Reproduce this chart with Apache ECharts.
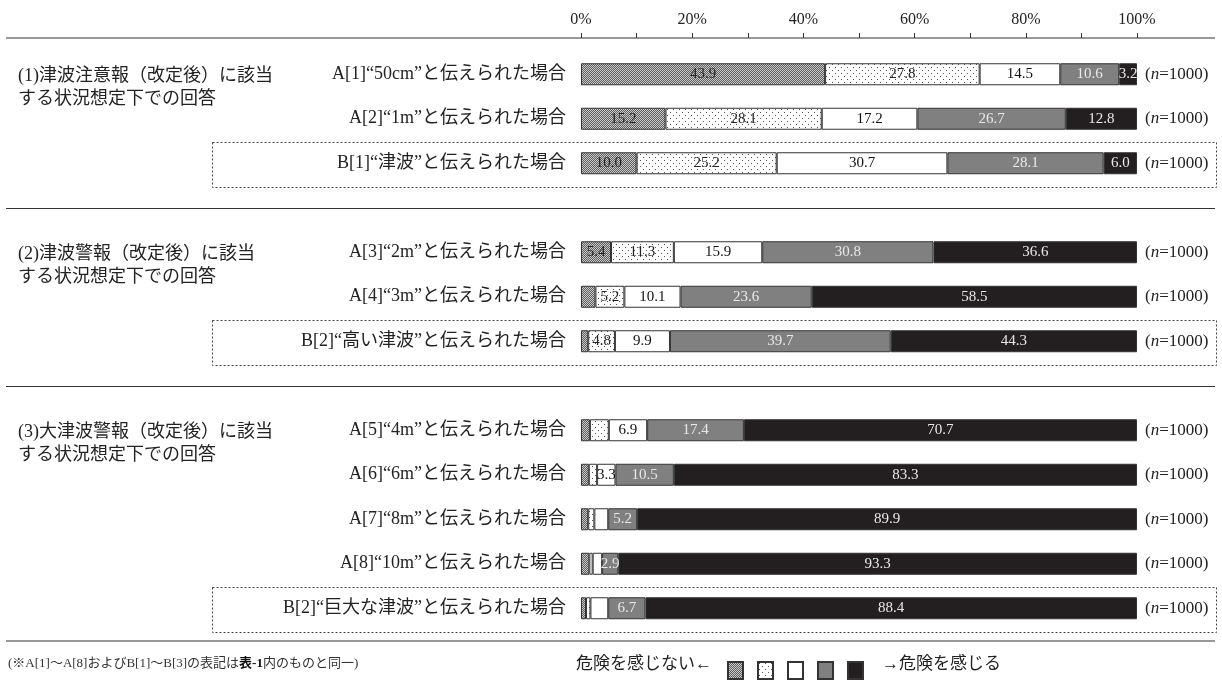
<!DOCTYPE html>
<html>
<head>
<meta charset="utf-8">
<script src="https://cdn.jsdelivr.net/npm/echarts@6/dist/echarts.min.js"></script>
<style>
  html, body { margin: 0; background: #fff; }
  #main { width: 1222px; height: 686px; }
</style>
</head>
<body>
<div id="main"></div>
<script>
// rows (top to bottom); '' = spacer between groups
var rowLabels = [
  'A[1]“50cm”と伝えられた場合', 'A[2]“1m”と伝えられた場合', 'B[1]“津波”と伝えられた場合', '',
  'A[3]“2m”と伝えられた場合', 'A[4]“3m”と伝えられた場合', 'B[2]“高い津波”と伝えられた場合', '',
  'A[5]“4m”と伝えられた場合', 'A[6]“6m”と伝えられた場合', 'A[7]“8m”と伝えられた場合',
  'A[8]“10m”と伝えられた場合', 'B[2]“巨大な津波”と伝えられた場合'
]
var sampleSizes = ['1000', '1000', '1000', '', '1000', '1000', '1000', '', '1000', '1000', '1000', '1000', '1000']

// share (%) per danger level, 1 = no danger felt ... 5 = danger felt
var level1 = [43.9, 15.2, 10.0, null, 5.4, 2.6, 1.3, null, 1.6, 1.4, 1.3, 1.5, 0.9]
var level2 = [27.8, 28.1, 25.2, null, 11.3, 5.2, 4.8, null, 3.4, 1.5, 1.1, 0.6, 0.8]
var level3 = [14.5, 17.2, 30.7, null, 15.9, 10.1, 9.9, null, 6.9, 3.3, 2.5, 1.7, 3.2]
var level4 = [10.6, 26.7, 28.1, null, 30.8, 23.6, 39.7, null, 17.4, 10.5, 5.2, 2.9, 6.7]
var level5 = [3.2, 12.8, 6.0, null, 36.6, 58.5, 44.3, null, 70.7, 83.3, 89.9, 93.3, 88.4]
var levelNames = ['レベル1', 'レベル2', 'レベル3', 'レベル4', 'レベル5']

var groupLabels = [
  '(1)津波注意報（改定後）に該当\nする状況想定下での回答',
  '(2)津波警報（改定後）に該当\nする状況想定下での回答',
  '(3)大津波警報（改定後）に該当\nする状況想定下での回答'
]
var groupFirstRow = [0, 4, 8]
var boxedRows = [2, 6, 12]
var spacerRows = [3, 7]
var hiddenLabels = [[8, 1], [12, 2]] // [row, level] values printed without a label

var FONT = '"Liberation Serif", "Noto Sans CJK JP", serif'

function checkPattern() {
  var c = document.createElement('canvas')
  c.width = 2; c.height = 2
  var ctx = c.getContext('2d')
  ctx.fillStyle = '#606060'; ctx.fillRect(0, 0, 2, 2)
  ctx.fillStyle = '#c8c8c8'; ctx.fillRect(0, 0, 1, 1); ctx.fillRect(1, 1, 1, 1)
  return { image: c, repeat: 'repeat' }
}
function dotPattern() {
  var c = document.createElement('canvas')
  c.width = 6; c.height = 6
  var ctx = c.getContext('2d')
  ctx.fillStyle = '#fff'; ctx.fillRect(0, 0, 6, 6)
  ctx.fillStyle = '#555'; ctx.fillRect(1, 1, 1, 1); ctx.fillRect(4, 4, 1, 1)
  return { image: c, repeat: 'repeat' }
}

var fills = [checkPattern(), dotPattern(), '#ffffff', '#808080', '#231f20']
var labelColors = ['#222', '#222', '#111', '#e8e8e8', '#e8e8e8']
var levels = [level1, level2, level3, level4, level5]

function isHidden(r, l) {
  for (var k = 0; k < hiddenLabels.length; k++) {
    if (hiddenLabels[k][0] === r && hiddenLabels[k][1] === l) return true
  }
  return false
}

var series = levels.map(function(vals, l) {
  return {
    name: levelNames[l],
    type: 'bar',
    stack: 'all',
    barWidth: 22,
    itemStyle: { color: fills[l], borderColor: '#333', borderWidth: 1 },
    label: {
      position: 'inside',
      fontFamily: FONT,
      fontSize: 15,
      color: labelColors[l],
      formatter: function(p) { return p.value.toFixed(1) }
    },
    data: vals.map(function(v, r) {
      return { value: v, label: { show: v != null && v >= 2.9 && !isHidden(r, l) } }
    })
  }
})

var chart = echarts.init(document.getElementById('main'))
chart.setOption({
  backgroundColor: '#fff',
  animation: false,
  textStyle: { fontFamily: FONT },
  grid: { left: 581, right: 85, top: 52, bottom: 55.5 },
  xAxis: {
    type: 'value',
    position: 'top',
    offset: 14,
    min: 0,
    max: 100,
    interval: 10,
    axisLine: { show: false },
    axisTick: { show: true, length: 5, lineStyle: { color: '#333' } },
    splitLine: { show: false },
    axisLabel: {
      margin: 10,
      fontSize: 16,
      color: '#222',
      fontFamily: FONT,
      formatter: function(v) { return v % 20 === 0 ? v + '%' : '' }
    }
  },
  yAxis: [{
    type: 'category',
    inverse: true,
    data: rowLabels,
    axisLine: { show: false },
    axisTick: { show: false },
    axisLabel: { margin: 15, fontSize: 18, color: '#222', fontFamily: FONT }
  }, {
    type: 'category',
    position: 'right',
    inverse: true,
    data: sampleSizes,
    axisLine: { show: false },
    axisTick: { show: false },
    axisLabel: {
      margin: 8,
      formatter: function(v) { return v ? '{p|(}{i|n}{p|=' + v + ')}' : '' },
      rich: {
        p: { fontSize: 17, color: '#222', fontFamily: FONT },
        i: { fontSize: 17, color: '#222', fontFamily: FONT, fontStyle: 'italic' }
      }
    }
  }],
  legend: {
    left: 722,
    top: 656,
    icon: 'rect',
    itemWidth: 15,
    itemHeight: 17,
    itemGap: 13,
    formatter: function() { return '' },
    data: levelNames
  },
  series: series
})

// annotations placed on the category axis
function rowY(r) { return chart.convertToPixel({ yAxisIndex: 0 }, r) }
var graphics = []
function hline(y) {
  graphics.push({ type: 'line', shape: { x1: 6, y1: y, x2: 1215, y2: y },
    style: { stroke: '#333', lineWidth: 1.2 }, silent: true })
}
hline(38)
spacerRows.forEach(function(r) { hline(Math.round(rowY(r)) + 0.5) })
hline(641)
boxedRows.forEach(function(r) {
  var y = rowY(r)
  graphics.push({ type: 'rect', shape: { x: 212.5, y: Math.round(y - 21) + 0.5, width: 1004, height: 45 },
    style: { fill: null, stroke: '#444', lineWidth: 1, lineDash: [2, 2] }, silent: true })
})
groupFirstRow.forEach(function(r, g) {
  graphics.push({ type: 'text', left: 18, top: rowY(r) - 9,
    style: { text: groupLabels[g], font: '18px ' + FONT, fill: '#222', lineHeight: 23 }, silent: true })
})
graphics.push({ type: 'text', left: 8, top: 657,
  style: {
    text: '{a|(※A[1]〜A[8]およびB[1]〜B[3]の表記は}{b|表-1}{a|内のものと同一)}',
    rich: {
      a: { fontSize: 13, fill: '#333', fontFamily: FONT },
      b: { fontSize: 13, fill: '#111', fontFamily: FONT, fontWeight: 'bold' }
    }
  }, silent: true })
graphics.push({ type: 'text', right: 1222 - 712, top: 656,
  style: { text: '危険を感じない←', font: '17px ' + FONT, fill: '#222', align: 'right' }, silent: true })
graphics.push({ type: 'text', left: 882, top: 656,
  style: { text: '→危険を感じる', font: '17px ' + FONT, fill: '#222' }, silent: true })
chart.setOption({ graphic: graphics })
</script>
</body>
</html>
